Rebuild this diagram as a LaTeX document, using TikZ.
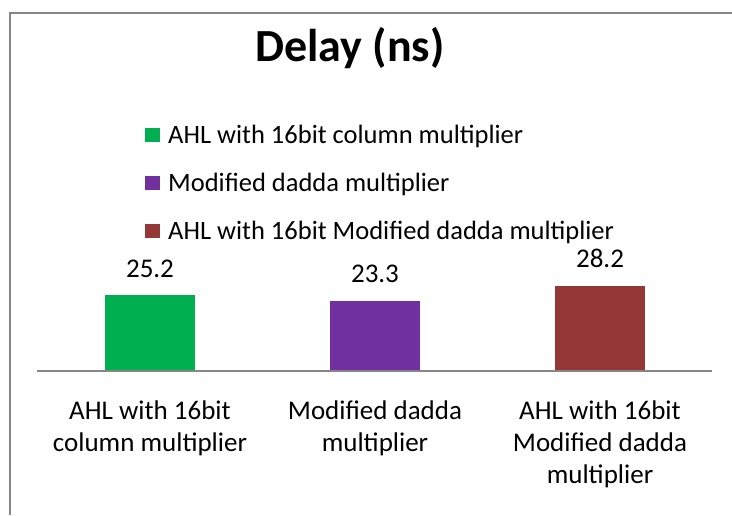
\documentclass[tikz,border=0pt]{standalone}
\usepackage{fontspec}
\setmainfont{Carlito}
\definecolor{cgreen}{HTML}{00B050}
\definecolor{cpurple}{HTML}{7030A0}
\definecolor{cred}{HTML}{953735}
\definecolor{cgray}{HTML}{868686}
\tikzset{
  bar/.style={fill=#1, draw=none, minimum width=90pt, inner sep=0, anchor=south},
  val/.style={font=\fontsize{27}{31}\selectfont, anchor=base, inner sep=0},
  leg/.style={font=\fontsize{26.5}{28}\selectfont, anchor=base west, inner sep=0},
  legbox/.style={fill=#1, draw=none, minimum width=15pt, minimum height=14pt, inner sep=0},
  cat/.style={font=\fontsize{27}{32}\selectfont, align=center, anchor=north, inner sep=0},
}
\begin{document}
\begin{tikzpicture}[x=1pt,y=-1pt]
\useasboundingbox (0,0) rectangle (732,515);
% frame
\draw[cgray, line width=2.2pt] (10,515) -- (10,13) -- (732,13);
% title
\node[font=\fontsize{46}{50}\selectfont\bfseries, anchor=base, inner sep=0] (title) at (350,61) {Delay (ns)};
% legend
\node[legbox=cgreen] (lg1) at (152.5,135) {};
\node[leg] (lt1) at (168,143) {AHL with 16bit column multiplier};
\node[legbox=cpurple] (lg2) at (152.5,183) {};
\node[leg] (lt2) at (168,191) {Modified dadda multiplier};
\node[legbox=cred] (lg3) at (152.5,231) {};
\node[leg] (lt3) at (168,239) {AHL with 16bit Modified dadda multiplier};
% bars
\node[bar=cgreen, minimum height=75.6pt] (b1) at (150,371) {};
\node[bar=cpurple, minimum height=69.9pt] (b2) at (375,371) {};
\node[bar=cred, minimum height=84.6pt] (b3) at (600,371) {};
% axis
\coordinate (axl) at (37,371);
\coordinate (axr) at (712,371);
\draw[cgray, line width=2pt] (axl) -- (axr);
% values
\node[val] (v1) at (150,277) {25.2};
\node[val] (v2) at (375,282) {23.3};
\node[val] (v3) at (600,267) {28.2};
% categories
\node[cat] (c1) at (150,401) {AHL with 16bit\\column multiplier};
\node[cat] (c2) at (375,401) {Modified dadda\\multiplier};
\node[cat] (c3) at (600,401) {AHL with 16bit\\Modified dadda\\multiplier};
\end{tikzpicture}
\end{document}
